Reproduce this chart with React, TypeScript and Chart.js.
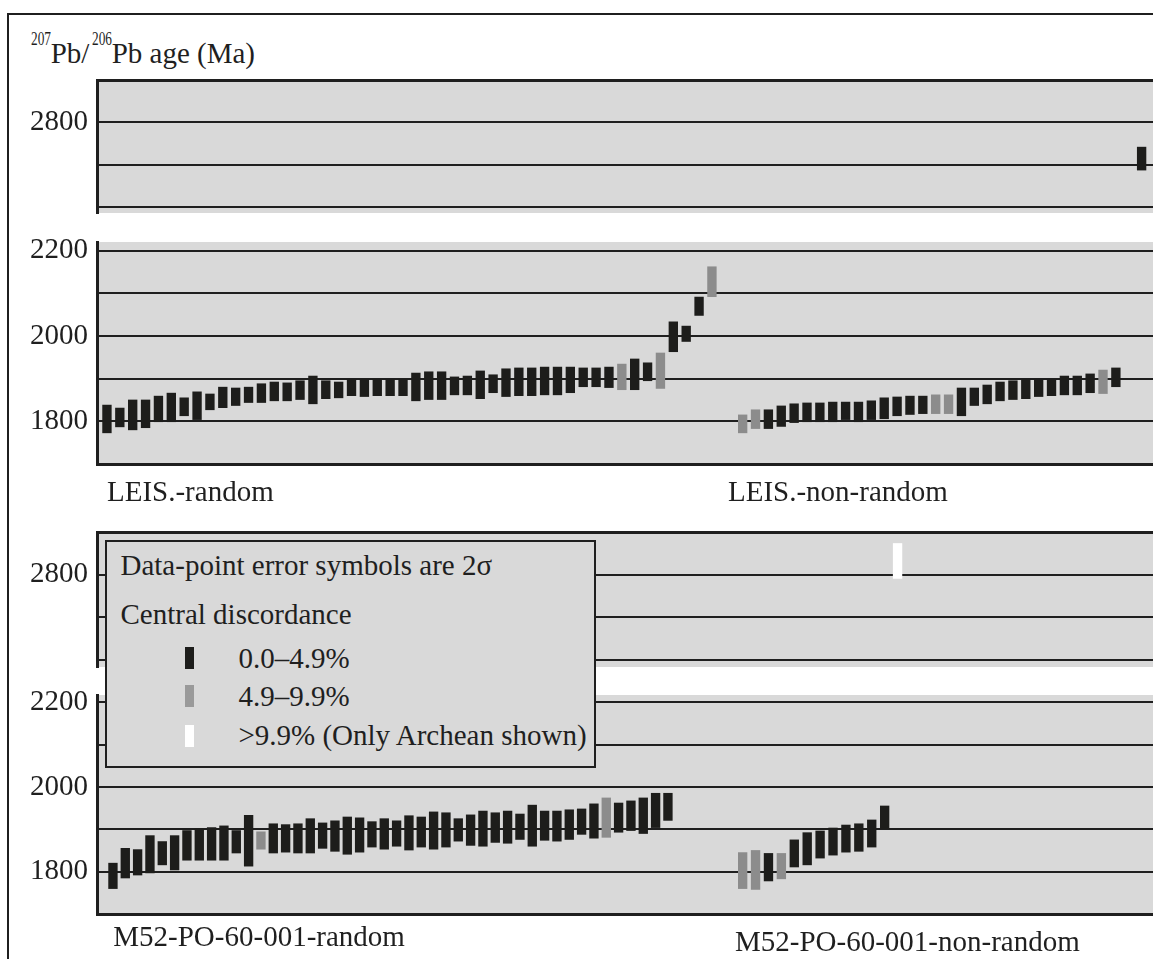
import React, { useEffect, useRef } from 'react';
import { Chart, registerables } from 'chart.js';

Chart.register(...registerables);

const SERIF = "'Liberation Serif', 'Times New Roman', Times, serif";
const INK = '#1f1f1f';
const PANEL = '#d9d9d9';
// discordance class: 0 = 0.0–4.9 %, 1 = 4.9–9.9 %, 2 = >9.9 % (only Archean shown)
const CLASS_COLORS = ['#1d1d1b', '#8c8c8c', '#ffffff'];

// page geometry of the plotting strips
const PLOT_LEFT = 97;
const PLOT_RIGHT = 1153;
const PAD = 20;
const BAR_W = 8.7;

// ---- LEIS. (2σ age intervals in Ma, grains ordered by age) ----
const leisRandomLow = [1773, 1787, 1780, 1785, 1799, 1799, 1813, 1804, 1827, 1832, 1837, 1844, 1844, 1848, 1848, 1851, 1841, 1853, 1855, 1860, 1858, 1860, 1860, 1860, 1848, 1851, 1851, 1862, 1862, 1853, 1867, 1858, 1860, 1860, 1862, 1862, 1867, 1881, 1881, 1879, 1874, 1874, 1895, 1877, 1963, 1987, 2048, 2092];
const leisRandomHigh = [1838, 1831, 1850, 1850, 1859, 1866, 1855, 1869, 1864, 1880, 1878, 1880, 1888, 1892, 1890, 1895, 1906, 1895, 1892, 1898, 1898, 1898, 1898, 1898, 1913, 1916, 1916, 1904, 1906, 1918, 1909, 1923, 1925, 1925, 1927, 1927, 1927, 1925, 1925, 1927, 1934, 1946, 1937, 1960, 2033, 2023, 2091, 2162];
const leisRandomClass = [0, 0, 0, 0, 0, 0, 0, 0, 0, 0, 0, 0, 0, 0, 0, 0, 0, 0, 0, 0, 0, 0, 0, 0, 0, 0, 0, 0, 0, 0, 0, 0, 0, 0, 0, 0, 0, 0, 0, 0, 1, 0, 0, 1, 0, 0, 0, 1];

const leisNonRandomLow = [1773, 1783, 1783, 1788, 1797, 1799, 1799, 1799, 1804, 1799, 1804, 1806, 1813, 1816, 1818, 1818, 1818, 1813, 1837, 1841, 1848, 1851, 1853, 1858, 1860, 1862, 1862, 1867, 1865, 1881, null, 2688];
const leisNonRandomHigh = [1815, 1827, 1827, 1836, 1841, 1843, 1843, 1845, 1845, 1845, 1848, 1855, 1857, 1859, 1859, 1862, 1862, 1878, 1878, 1885, 1892, 1895, 1897, 1897, 1897, 1906, 1906, 1911, 1920, 1925, null, 2742];
const leisNonRandomClass = [1, 1, 0, 0, 0, 0, 0, 0, 0, 0, 0, 0, 0, 0, 0, 1, 1, 0, 0, 0, 0, 0, 0, 0, 0, 0, 0, 0, 1, 0, 2, 0];

// ---- M52-PO-60-001 ----
const m52RandomLow = [1760, 1785, 1792, 1797, 1816, 1804, 1827, 1827, 1827, 1827, 1844, 1813, 1853, 1844, 1846, 1844, 1844, 1855, 1848, 1841, 1846, 1858, 1853, 1860, 1851, 1858, 1853, 1858, 1872, 1862, 1860, 1869, 1867, 1876, 1860, 1874, 1872, 1876, 1888, 1879, 1881, 1893, 1897, 1890, 1904, 1921];
const m52RandomHigh = [1820, 1855, 1852, 1885, 1871, 1885, 1897, 1901, 1904, 1908, 1897, 1933, 1894, 1913, 1911, 1913, 1925, 1915, 1920, 1929, 1927, 1918, 1925, 1920, 1932, 1929, 1941, 1939, 1925, 1934, 1943, 1939, 1943, 1936, 1957, 1943, 1943, 1946, 1948, 1960, 1974, 1962, 1967, 1974, 1985, 1985];
const m52RandomClass = [0, 0, 0, 0, 0, 0, 0, 0, 0, 0, 0, 0, 1, 0, 0, 0, 0, 0, 0, 0, 0, 0, 0, 0, 0, 0, 0, 0, 0, 0, 0, 0, 0, 0, 0, 0, 0, 0, 0, 0, 1, 0, 0, 0, 0, 0];

const m52NonRandomLow = [1760, 1758, 1778, 1783, 1811, 1816, 1832, 1839, 1846, 1848, 1858, 1902, 2791];
const m52NonRandomHigh = [1845, 1850, 1843, 1843, 1875, 1892, 1896, 1903, 1910, 1913, 1922, 1955, 2873];
const m52NonRandomClass = [1, 1, 0, 1, 0, 0, 0, 0, 0, 0, 0, 0, 2];

// axis ticks of the broken age axis
const upperGrid = [2600, 2700, 2800, 2900];
const upperTickLabels = [2800];
const lowerGrid = [1700, 1800, 1900, 2000, 2100, 2200];
const lowerTickLabels = [1800, 2000, 2200];

type Group = {
  low: (number | null)[];
  high: (number | null)[];
  cls: number[];
  first: number; // pixel centre of the first grain slot
  step: number; // pixel spacing of grain slots
};

const leisGroups: Group[] = [
  { low: leisRandomLow, high: leisRandomHigh, cls: leisRandomClass, first: 111.3, step: 12.872 },
  { low: leisNonRandomLow, high: leisNonRandomHigh, cls: leisNonRandomClass, first: 738.3, step: 12.87 },
];
const m52Groups: Group[] = [
  { low: m52RandomLow, high: m52RandomHigh, cls: m52RandomClass, first: 117.3, step: 12.333 },
  { low: m52NonRandomLow, high: m52NonRandomHigh, cls: m52NonRandomClass, first: 738.3, step: 12.909 },
];

const panelFill = {
  id: 'panelFill',
  beforeDraw(chart: any) {
    const { ctx, chartArea: a } = chart;
    ctx.save();
    ctx.fillStyle = PANEL;
    ctx.fillRect(a.left, a.top, a.right - a.left, a.bottom - a.top);
    ctx.restore();
  },
};

type SegmentProps = {
  top: number;
  bottom: number;
  yMin: number;
  yMax: number;
  frameValue: number;
  grid: number[];
  labels: number[];
  groups: Group[];
};

function Segment({ top, bottom, yMin, yMax, frameValue, grid, labels, groups }: SegmentProps) {
  const ref = useRef<HTMLCanvasElement>(null);
  const height = bottom - top + PAD * 2;

  useEffect(() => {
    const canvas = ref.current;
    if (!canvas) return;

    const scales: any = {};
    const datasets = groups.map((g, k) => {
      const points: { x: number; y: number[] }[] = [];
      const colors: string[] = [];
      g.low.forEach((lo, i) => {
        const hi = g.high[i];
        if (lo == null || hi == null) return;
        points.push({ x: i + 1, y: [lo, hi] });
        colors.push(CLASS_COLORS[g.cls[i]]);
      });
      const min = 1 - (g.first - PLOT_LEFT) / g.step;
      scales['x' + k] = {
        type: 'linear',
        display: false,
        offset: false,
        min,
        max: min + (PLOT_RIGHT - PLOT_LEFT) / g.step,
      };
      return {
        data: points,
        backgroundColor: colors,
        borderWidth: 0,
        barThickness: BAR_W,
        maxBarThickness: BAR_W,
        xAxisID: 'x' + k,
        yAxisID: 'y',
        clip: 0,
      };
    });

    scales.y = {
      type: 'linear',
      position: 'left',
      min: yMin,
      max: yMax,
      afterBuildTicks: (s: any) => {
        s.ticks = grid.map((v) => ({ value: v }));
      },
      afterFit: (s: any) => {
        s.width = PLOT_LEFT;
        s.paddingTop = 0;
        s.paddingBottom = 0;
      },
      ticks: {
        autoSkip: false,
        padding: 9,
        color: INK,
        font: { family: SERIF, size: 29 },
        callback: (v: any) => (labels.includes(Number(v)) ? String(v) : ''),
      },
      grid: {
        color: INK,
        drawTicks: false,
        lineWidth: (c: any) => (c.tick && c.tick.value === frameValue ? 3 : 2),
      },
      border: { display: true, color: INK, width: 3 },
    };

    const chart = new Chart(canvas, {
      type: 'bar',
      data: { datasets: datasets as any },
      options: {
        animation: false,
        responsive: false,
        maintainAspectRatio: false,
        devicePixelRatio: 1,
        events: [],
        layout: { autoPadding: false, padding: { top: PAD, bottom: PAD, left: 0, right: 0 } },
        plugins: { legend: { display: false }, tooltip: { enabled: false } },
        scales,
      } as any,
      plugins: [panelFill],
    });
    return () => chart.destroy();
  }, []);

  return (
    <canvas
      ref={ref}
      width={PLOT_RIGHT}
      height={height}
      style={{ position: 'absolute', left: 0, top: top - PAD, width: PLOT_RIGHT, height }}
    />
  );
}

function Text({ x, base, size = 29, children, style }: any) {
  return (
    <div
      style={{
        position: 'absolute',
        left: x,
        top: base - 0.8375 * size,
        fontFamily: SERIF,
        fontSize: size,
        lineHeight: `${size}px`,
        whiteSpace: 'nowrap',
        color: INK,
        ...style,
      }}
    >
      {children}
    </div>
  );
}

const sup = { transform: 'scaleX(0.72)', transformOrigin: '0 0' };

function Swatch({ top, color }: { top: number; color: string }) {
  return <div style={{ position: 'absolute', left: 185, top, width: 9, height: 22, background: color }} />;
}

export default function App() {
  return (
    <div style={{ position: 'absolute', left: 0, top: 0, width: 1153, height: 959, overflow: 'hidden', background: '#fff' }}>
      {/* figure frame */}
      <div style={{ position: 'absolute', left: 7, top: 13, width: 2, height: 946, background: INK }} />
      <div style={{ position: 'absolute', left: 7, top: 13, width: 1146, height: 2, background: INK }} />

      {/* axis title */}
      <Text x={30.7} base={45} size={18.5} style={sup}>207</Text>
      <Text x={50.7} base={63.3}>Pb/</Text>
      <Text x={91.5} base={45} size={18.5} style={sup}>206</Text>
      <Text x={111.7} base={63.3}>Pb age (Ma)</Text>

      {/* LEIS. panel */}
      <Segment top={80} bottom={213} yMin={2587} yMax={2900} frameValue={2900} grid={upperGrid} labels={upperTickLabels} groups={leisGroups} />
      <Segment top={242} bottom={464} yMin={1700} yMax={2220} frameValue={1700} grid={lowerGrid} labels={lowerTickLabels} groups={leisGroups} />
      <Text x={107} base={501.5}>LEIS.-random</Text>
      <Text x={728} base={501.5}>LEIS.-non-random</Text>

      {/* M52-PO-60-001 panel */}
      <Segment top={532} bottom={667} yMin={2583} yMax={2900} frameValue={2900} grid={upperGrid} labels={upperTickLabels} groups={m52Groups} />
      <Segment top={695} bottom={914} yMin={1700} yMax={2217} frameValue={1700} grid={lowerGrid} labels={lowerTickLabels} groups={m52Groups} />
      <Text x={113.3} base={946}>M52-PO-60-001-random</Text>
      <Text x={735} base={951.7}>M52-PO-60-001-non-random</Text>

      {/* key */}
      <div
        style={{
          position: 'absolute',
          left: 105,
          top: 540,
          width: 491,
          height: 228,
          boxSizing: 'border-box',
          border: `2px solid ${INK}`,
          background: PANEL,
        }}
      />
      <Text x={120.5} base={575}>Data-point error symbols are 2σ</Text>
      <Text x={120.5} base={624.5}>Central discordance</Text>
      <Swatch top={647} color={CLASS_COLORS[0]} />
      <Text x={238.4} base={668.3}>0.0–4.9%</Text>
      <Swatch top={685} color="#9a9a9a" />
      <Text x={238.4} base={706}>4.9–9.9%</Text>
      <Swatch top={725} color={CLASS_COLORS[2]} />
      <Text x={238.4} base={745.5}>&gt;9.9% (Only Archean shown)</Text>
    </div>
  );
}
